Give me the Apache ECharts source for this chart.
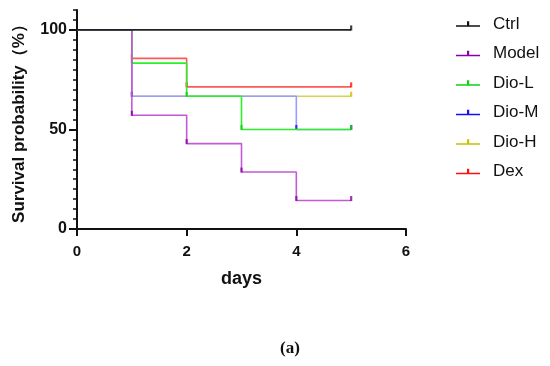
<!DOCTYPE html>
<html><head><meta charset="utf-8">
<script src="https://cdn.jsdelivr.net/npm/echarts@6/dist/echarts.min.js"></script>
<style>html,body{margin:0;padding:0;background:#fff}#c{width:550px;height:366px}</style>
</head><body><div id="c"></div>
<script>
const days = [0, 1, 2, 3, 4, 5];
const seriesNames = ['Ctrl', 'Model', 'Dio-L', 'Dio-M', 'Dio-H', 'Dex'];
const ctrl  = [100, 100, 100, 100, 100, 100];
const model = [100, 57.1, 42.9, 28.6, 14.3, 14.3];
const dioL  = [100, 83.3, 66.7, 50, 50, 50];
const dioM  = [100, 66.7, 66.7, 66.7, 50, 50];
const dioH  = [100, 66.7, 66.7, 66.7, 66.7, 66.7];
const dex   = [100, 85.7, 71.4, 71.4, 71.4, 71.4];
const xTicks = [0, 2, 4, 6];
const yLabels = [0, 50, 100];

const values = [ctrl, model, dioL, dioM, dioH, dex];
const lineColors = ['#222222', '#c25ad6', '#2cf02c', '#9a9aff', '#d8d452', '#ff5a5a'];
const markColors = ['#111111', '#8a00a8', '#10d010', '#1010ff', '#c8c000', '#ff1010'];

const font = 'Arial, "Liberation Sans", Helvetica, sans-serif';
const series = [];
values.forEach((vals, i) => {
  const z = 20 - i;
  series.push({
    name: seriesNames[i], type: 'line', step: 'end', symbol: 'none', z: z,
    data: days.map((d, k) => [d, vals[k]]),
    lineStyle: { color: lineColors[i], width: 1.6 },
    itemStyle: { color: markColors[i] },
    emphasis: { disabled: true }, animation: false
  });
  const marks = [];
  days.forEach((d, k) => {
    if ((k > 0 && vals[k] !== vals[k - 1]) || k === days.length - 1) marks.push([d, vals[k]]);
  });
  series.push({
    name: seriesNames[i] + '_m', type: 'scatter', z: z,
    symbol: 'rect', symbolSize: [2.2, 5], symbolOffset: [0, -2],
    data: marks, itemStyle: { color: markColors[i] }, animation: false
  });
});

const chart = echarts.init(document.getElementById('c'));
chart.setOption({
  animation: false,
  grid: { left: 77, right: 144, top: 10, bottom: 137, containLabel: false },
  legend: {
    data: seriesNames, orient: 'vertical', left: 456, top: 14, padding: 0,
    itemWidth: 24, itemHeight: 8, itemGap: 9.5,
    icon: 'path://M0,5h24v1.6H0z M11,1h2.2v5h-2.2z',
    textStyle: { fontFamily: font, fontSize: 17, color: '#111', lineHeight: 20, padding: [0, 0, 0, 8] }
  },
  xAxis: {
    type: 'value', min: 0, max: 6, interval: 2,
    name: 'days', nameLocation: 'middle', nameGap: 41,
    nameTextStyle: { fontFamily: font, fontSize: 18, fontWeight: 'bold', color: '#111' },
    axisLine: { show: true, onZero: false, lineStyle: { color: '#111', width: 2 } },
    axisTick: { show: true, length: 7, lineStyle: { color: '#111', width: 2 } },
    axisLabel: { fontFamily: font, fontSize: 15, fontWeight: 'bold', color: '#111', margin: 15,
      formatter: v => xTicks.includes(v) ? String(v) : '' },
    splitLine: { show: false }
  },
  yAxis: [{
    type: 'value', min: 0, max: 110, interval: 5, position: 'left',
    axisLine: { show: true, onZero: false, lineStyle: { color: '#111', width: 2 } },
    axisTick: { show: true, length: 4, lineStyle: { color: '#111', width: 1.5 } },
    axisLabel: { show: false }, splitLine: { show: false }
  }, {
    type: 'value', min: 0, max: 110, interval: 50, position: 'left',
    name: 'Survival probability（%）', nameLocation: 'middle', nameGap: 49,
    nameTextStyle: { fontFamily: font, fontSize: 17, fontWeight: 'bold', color: '#111', padding: [0, 0, 0, 0] },
    axisLine: { show: false },
    axisTick: { show: true, length: 8, customValues: yLabels, lineStyle: { color: '#111', width: 2 } },
    axisLabel: { fontFamily: font, fontSize: 16, fontWeight: 'bold', color: '#111', margin: 10,
      customValues: yLabels },
    splitLine: { show: false }
  }],
  graphic: [{
    type: 'text', left: 280, top: 340,
    style: { text: '(a)', fontFamily: '"Liberation Serif", "DejaVu Serif", serif', fontSize: 17, fontWeight: 'bold', fill: '#111' }
  }],
  series: series
});
</script></body></html>
